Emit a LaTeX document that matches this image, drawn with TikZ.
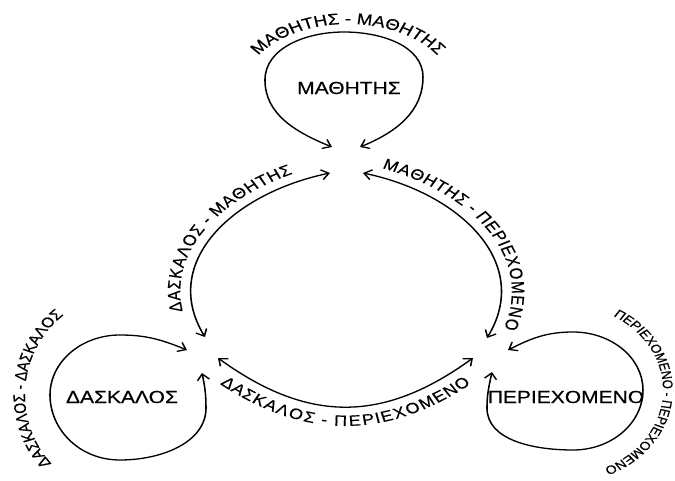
\documentclass[tikz,border=0pt]{standalone}
\usepackage{fontspec}
\setmainfont{Liberation Sans}[FakeBold=0.4]
\usetikzlibrary{arrows.meta, decorations.text}

\newcommand{\lblfont}{\fontsize{15}{18}\selectfont}

\begin{document}
\begin{tikzpicture}[
    actor/.style={font=\fontsize{17.5}{20}\selectfont, inner sep=0pt},
    conn/.style={{Straight Barb[length=6pt,width=10pt]}-{Straight Barb[length=6pt,width=10pt]}, line width=1.3pt},
    lbl/.style={decorate, decoration={text along path, text align=center}}
]
\path[use as bounding box, fill=white] (0pt,0pt) rectangle (675pt,480pt);
\begin{scope}[x=0.8333pt, y=1pt, transform canvas={xscale=1.2}]
% actors
\node[actor] (mathitis) at (349,392) {ΜΑΘΗΤΗΣ};
\node[actor] (daskalos) at (122,83) {ΔΑΣΚΑΛΟΣ};
\node[actor] (periex) at (566,83) {ΠΕΡΙΕΧΟΜΕΝΟ};

% arrow ends
\coordinate (mm1) at (332,333);
\coordinate (mm2) at (360,333);
\coordinate (dd1) at (187,130);
\coordinate (dd2) at (202,107);
\coordinate (pp1) at (508,130);
\coordinate (pp2) at (492,108);
\coordinate (dm1) at (205,143);
\coordinate (dm2) at (330,307);
\coordinate (mp1) at (363,307);
\coordinate (mp2) at (487,142);
\coordinate (dp1) at (218,122);
\coordinate (dp2) at (473,122);

% self loops
\draw[conn] (mm1) to[out=154,in=-90] (265,400) to[out=90,in=180] (344,448)
    to[out=0,in=90] (423,403) to[out=-90,in=26] (mm2);
\draw[conn] (dd1) to[out=154,in=0] (120,145) to[out=180,in=90] (50,85)
    to[out=-90,in=180] (120,20) to[out=0,in=-90] (206,72) to[out=90,in=-80] (dd2);
\draw[conn] (pp1) to[out=31,in=180] (573,148) to[out=0,in=90] (643,90)
    to[out=-90,in=0] (573,30) to[out=180,in=-90] (487,72) to[out=90,in=-100] (pp2);

% relations
\draw[conn] (dm1) to[out=117,in=194,looseness=1.1] (dm2);
\draw[conn] (mp1) to[out=-14,in=63,looseness=1.1] (mp2);
\draw[conn] (dp1) to[out=-41,in=221,looseness=1.2] (dp2);

% labels
\path[lbl, decoration={raise=9pt, text={|\lblfont|ΔΑΣΚΑΛΟΣ - ΜΑΘΗΤΗΣ}}]
    (dm1) to[out=117,in=194,looseness=1.1] (dm2);
\path[lbl, decoration={raise=9pt, text={|\lblfont|ΜΑΘΗΤΗΣ - ΠΕΡΙΕΧΟΜΕΝΟ}}]
    (mp1) to[out=-14,in=63,looseness=1.1] (mp2);
\path[lbl, decoration={raise=-19pt, text={|\lblfont|ΔΑΣΚΑΛΟΣ - ΠΕΡΙΕΧΟΜΕΝΟ}}]
    (dp1) to[out=-41,in=221,looseness=1.2] (dp2);
\path[lbl, decoration={text={|\fontsize{15.5}{18}\selectfont|ΜΑΘΗΤΗΣ - ΜΑΘΗΤΗΣ}}]
    (249.3,412.6) arc[start angle=160, end angle=20, x radius=105, y radius=66];
\path[lbl, decoration={text={|\fontsize{14}{16}\selectfont|ΔΑΣΚΑΛΟΣ - ΔΑΣΚΑΛΟΣ}}]
    (66.4,3.1) arc[start angle=235, end angle=115, x radius=97, y radius=100];
\path[lbl, decoration={text={|\fontsize{11.8}{14}\selectfont|ΠΕΡΙΕΧΟΜΕΝΟ - ΠΕΡΙΕΧΟΜΕΝΟ}}]
    (595.3,170.8) arc[start angle=72, end angle=-78, x radius=98, y radius=85];
\end{scope}
\end{tikzpicture}
\end{document}
